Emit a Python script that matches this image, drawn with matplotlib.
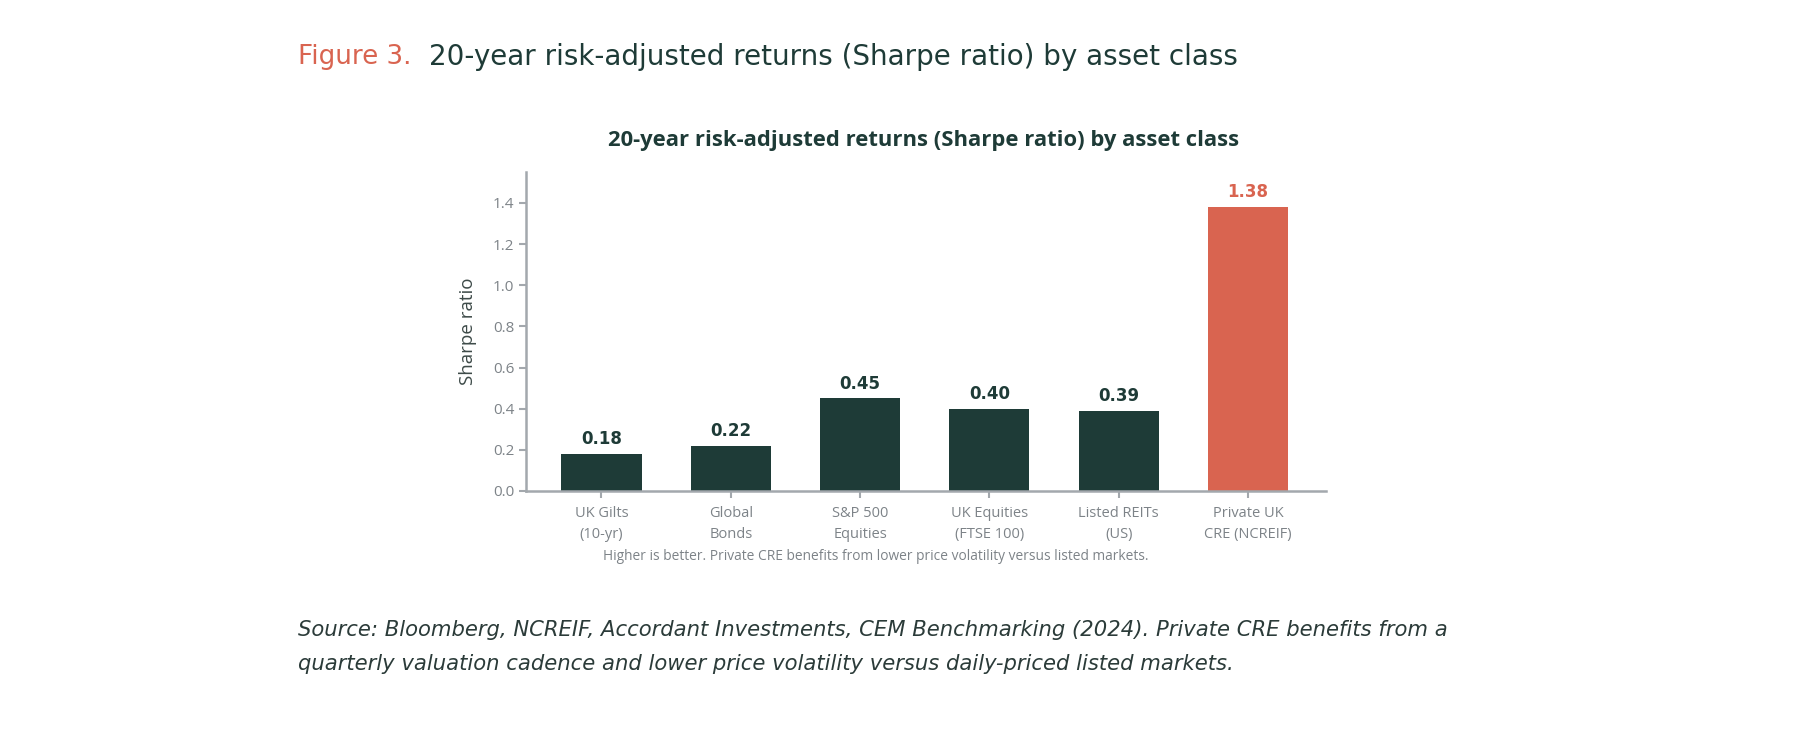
import numpy as np
import matplotlib
matplotlib.use("Agg")
import matplotlib.pyplot as plt

# data
categories = ["UK Gilts\n(10-yr)", "Global\nBonds", "S&P 500\nEquities",
              "UK Equities\n(FTSE 100)", "Listed REITs\n(US)", "Private UK\nCRE (NCREIF)"]
sharpe = [0.18, 0.22, 0.45, 0.40, 0.39, 1.38]
highlight = [False, False, False, False, False, True]
yticks = [0.0, 0.2, 0.4, 0.6, 0.8, 1.0, 1.2, 1.4]

fig_title = "20-year risk-adjusted returns (Sharpe ratio) by asset class"
chart_title = "20-year risk-adjusted returns (Sharpe ratio) by asset class"
note = "Higher is better. Private CRE benefits from lower price volatility versus listed markets."
source = ("Source: Bloomberg, NCREIF, Accordant Investments, CEM Benchmarking (2024). Private CRE benefits from a\n"
          "quarterly valuation cadence and lower price volatility versus daily-priced listed markets.")

GREEN = "#1e3b37"
CORAL = "#d96450"
GREY = "#7d8388"
SPINE = "#a3a8ad"

plt.rcParams["font.family"] = ["Open Sans", "DejaVu Sans"]

fig = plt.figure(figsize=(18, 7.3), dpi=100)
ax = fig.add_axes([0.2922, 0.3274, 0.4444, 0.437])

x = np.arange(len(categories))
colors = [CORAL if h else GREEN for h in highlight]
bars = ax.bar(x, sharpe, width=0.62, color=colors, zorder=2)

for xi, v, c in zip(x, sharpe, colors):
    ax.annotate(f"{v:.2f}", (xi, v), xytext=(0, 4), textcoords="offset points",
                ha="center", va="bottom", fontsize=12, fontweight="bold", color=c,
                family=["DejaVu Sans"])

ax.set_xlim(-0.584, 5.603)
ax.set_ylim(0, 1.55)
ax.set_yticks(yticks)
ax.set_yticklabels([f"{t:.1f}" for t in yticks])
ax.set_xticks(x)
ax.set_xticklabels(categories, fontsize=10.5, color=GREY, linespacing=1.5)
ax.tick_params(axis="y", labelsize=11, colors=GREY, length=5, width=1.5, color=SPINE)
ax.tick_params(axis="x", length=5, width=1.5, color=SPINE, pad=6)

for s in ["top", "right"]:
    ax.spines[s].set_visible(False)
for s in ["left", "bottom"]:
    ax.spines[s].set_color(SPINE)
    ax.spines[s].set_linewidth(1.8)

ax.set_ylabel("Sharpe ratio", fontsize=13.5, color="#3d4a48", labelpad=11)

fig.text(0.5133, 0.807, chart_title, ha="center", va="center", fontsize=15.8,
         fontweight="bold", color=GREEN)
fig.text(0.4867, 0.237, note, ha="center", va="center", fontsize=9.9, color=GREY)

fig.text(0.1656, 0.922, "Figure 3.", ha="left", va="center", fontsize=18.8,
         color=CORAL, family=["DejaVu Sans"])
fig.text(0.2385, 0.922, fig_title, ha="left", va="center", fontsize=20,
         color=GREEN, family=["DejaVu Sans"])

fig.text(0.1656, 0.114, source, ha="left", va="center", fontsize=15.2, style="italic",
         color="#2b3b39", linespacing=1.9, family=["DejaVu Sans"])

fig.savefig("out.png", dpi=100, facecolor="white")
